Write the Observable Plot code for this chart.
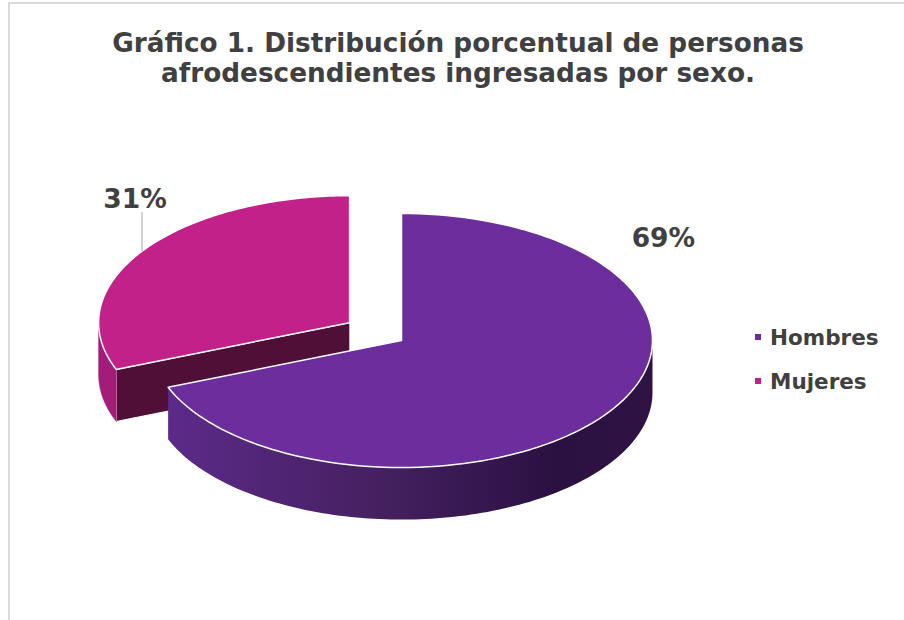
<!DOCTYPE html>
<html>
<head>
<meta charset="utf-8">
<script src="https://cdn.jsdelivr.net/npm/d3@7"></script>
<script src="https://cdn.jsdelivr.net/npm/@observablehq/plot@0.6"></script>
<style>
  body { margin: 0; background: #fff; font-family: "DejaVu Sans", Verdana, sans-serif; }
  #wrap { position: relative; width: 904px; height: 620px; overflow: hidden; background: #fff; }
  #frame { position: absolute; left: 8px; top: 2px; width: 1000px; height: 1000px;
           border-left: 2px solid #d9d9d9; border-top: 2px solid #d9d9d9; }
  #title { position: absolute; left: 12px; width: 892px; top: 28px; text-align: center;
           font-weight: bold; font-size: 26.3px; line-height: 30px; color: #404040; }
  #chart { position: absolute; left: 0; top: 100px; }
  #legend { position: absolute; left: 755px; top: 323px; color: #404040; font-weight: bold; font-size: 21.5px; }
  .item { display: flex; align-items: center; height: 28px; margin-bottom: 16px; }
  .sw { width: 6px; height: 6px; margin-right: 9px; }
</style>
</head>
<body>
<div id="wrap">
  <div id="frame"></div>
  <div id="title"></div>
  <div id="chart"></div>
  <div id="legend"></div>
</div>
<script>
// ---- data ----
const categories = ["Hombres", "Mujeres"];
const percentages = [69, 31];
const percentLabels = ["69%", "31%"];
const titleLines = ["Gráfico 1. Distribución porcentual de personas", "afrodescendientes ingresadas por sexo."];

// ---- style / layout ----
const topColors = ["#6c2e9c", "#c12189"];
const wallColors = ["url(#gradH)", "#a41c79"];
const faceColors = ["#3a1656", "#4f0f37"];
const explode = [0, 0.25];
const DEPTH = 0.41;
const labelLayout = [
  {angle: 52.4, r: 1.317, leader: false},
  {angle: 318.5, r: 1.29, leader: true, leaderTop: 0.87}
];
const textColor = "#404040";

document.getElementById("title").innerHTML = titleLines.join("<br>");
document.getElementById("legend").innerHTML = categories.map((c, i) =>
  `<div class="item"><div class="sw" style="background:${topColors[i]}"></div><span>${c}</span></div>`).join("");

const rows = categories.map((c, i) => ({category: c, value: percentages[i], label: percentLabels[i], i}));
const arcs = d3.pie().sort(null).value(d => d.value)(rows);

const N = 120;
function arcPts(ox, oy, a0, a1, dz) {
  const pts = [];
  for (let k = 0; k <= N; k++) {
    const a = a0 + (a1 - a0) * k / N;
    pts.push({x: ox + Math.sin(a), y: oy + Math.cos(a) - dz});
  }
  return pts;
}

const slices = arcs.map(a => {
  const i = a.data.i;
  const mid = (a.startAngle + a.endAngle) / 2;
  return {a, i, mid, ox: explode[i] * Math.sin(mid), oy: explode[i] * Math.cos(mid)};
}).sort((p, q) => q.oy - p.oy);

const polyMarks = [];
for (const s of slices) {
  const {a, i, ox, oy} = s;
  const a0 = a.startAngle, a1 = a.endAngle;
  // radial faces
  const faces = [];
  if (Math.sin(a0) < -1e-6) faces.push(a0);
  if (Math.sin(a1) > 1e-6) faces.push(a1);
  for (const f of faces) {
    const pts = [
      {x: ox, y: oy},
      {x: ox + Math.sin(f), y: oy + Math.cos(f)},
      {x: ox + Math.sin(f), y: oy + Math.cos(f) - DEPTH},
      {x: ox, y: oy - DEPTH}
    ];
    polyMarks.push(Plot.line(pts, {x: "x", y: "y", fill: faceColors[i], stroke: "#ffffff", strokeWidth: 1, curve: "linear-closed"}));
  }
  // outer wall (front half only)
  const ws = Math.max(a0, Math.PI / 2), we = Math.min(a1, 3 * Math.PI / 2);
  if (we > ws) {
    const pts = arcPts(ox, oy, ws, we, 0).concat(arcPts(ox, oy, we, ws, DEPTH));
    polyMarks.push(Plot.line(pts, {x: "x", y: "y", fill: wallColors[i], stroke: wallColors[i] === "url(#gradH)" ? "none" : wallColors[i], strokeWidth: 0.5, curve: "linear-closed"}));
  }
  // top
  const top = [{x: ox, y: oy}].concat(arcPts(ox, oy, a0, a1, 0));
  polyMarks.push(Plot.line(top, {x: "x", y: "y", fill: topColors[i], stroke: "#ffffff", strokeWidth: 1.5, strokeLinejoin: "round", curve: "linear-closed"}));
}

// labels
const labelData = slices.map(s => {
  const L = labelLayout[s.i];
  const ang = L.angle * Math.PI / 180;
  return {label: percentLabels[s.i], x: s.ox + L.r * Math.sin(ang), y: s.oy + L.r * Math.cos(ang)};
});
const leaderData = [];
slices.forEach(s => {
  const L = labelLayout[s.i];
  if (!L.leader) return;
  const ex = s.ox + Math.sin(s.mid), ey = s.oy + Math.cos(s.mid);
  leaderData.push({x1: ex, y1: ey, x2: ex, y2: s.oy + L.leaderTop});
});

const defsMark = () => {
  const defs = d3.create("svg:defs");
  const g = defs.append("linearGradient").attr("id", "gradH").attr("x1", 0).attr("x2", 1).attr("y1", 0).attr("y2", 0);
  [[0, "#5c2a89"], [0.45, "#44205f"], [0.8, "#2b1042"], [1, "#2e1344"]].forEach(([o, c]) =>
    g.append("stop").attr("offset", o).attr("stop-color", c));
  return defs.node();
};

const chart = Plot.plot({
  width: 904,
  height: 520,
  margin: 0,
  style: {background: "transparent", overflow: "visible"},
  x: {domain: [-1, 1], range: [150, 652], axis: null},
  y: {domain: [-1, 1], range: [367, 113], axis: null},
  marks: [
    defsMark,
    ...polyMarks,
    Plot.link(leaderData, {x1: "x1", y1: "y1", x2: "x2", y2: "y2", stroke: "#a6a6a6", strokeWidth: 1}),
    Plot.text(labelData, {x: "x", y: "y", text: "label", fill: textColor, fontSize: 26.5, fontWeight: "bold",
      fontFamily: "DejaVu Sans, Verdana, sans-serif"})
  ]
});
document.getElementById("chart").appendChild(chart);
</script>
</body>
</html>
